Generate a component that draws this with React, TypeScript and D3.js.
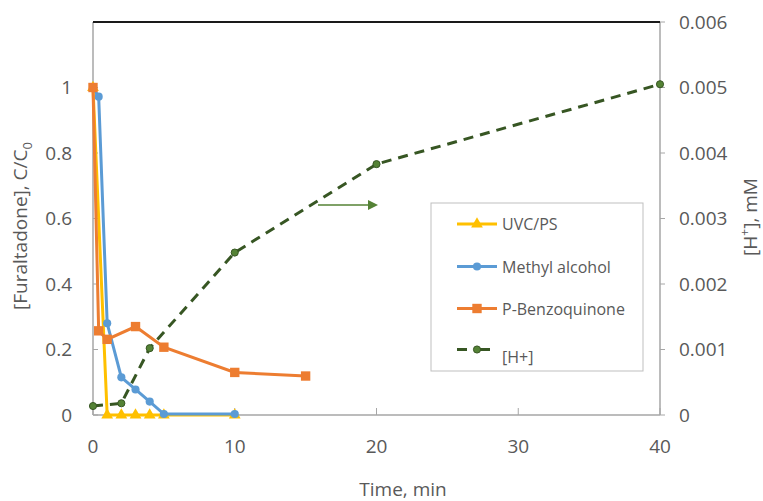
import React from 'react';
import * as d3 from 'd3';

const uvcTime = [0, 1, 2, 3, 4, 5, 10];
const uvcValue = [1, 0, 0, 0, 0, 0, 0];
const methTime = [0, 0.4, 1, 2, 3, 4, 5, 10];
const methValue = [1, 0.972, 0.28, 0.115, 0.078, 0.041, 0.003, 0.003];
const pbqTime = [0, 0.4, 1, 3, 5, 10, 15];
const pbqValue = [1, 0.257, 0.231, 0.27, 0.207, 0.13, 0.119];
const hTime = [0, 2, 4, 10, 20, 40];
const hValue = [0.000137, 0.000179, 0.00102, 0.00248, 0.00383, 0.00505];
const xTicks = [0, 10, 20, 30, 40];
const leftTicks = [0, 0.2, 0.4, 0.6, 0.8, 1];
const leftTickLabels = ['0', '0.2', '0.4', '0.6', '0.8', '1'];
const rightTicks = [0, 0.001, 0.002, 0.003, 0.004, 0.005, 0.006];
const rightTickLabels = ['0', '0.001', '0.002', '0.003', '0.004', '0.005', '0.006'];
const legendNames = ['UVC/PS', 'Methyl alcohol', 'P-Benzoquinone', '[H+]'];

const W = 763, H = 501;
const L = 93, R = 660, T = 22, B = 415;
const FONT = '"Open Sans", sans-serif';
const TXT = '#595959';

const YEL = '#FFC000', BLU = '#5B9BD5', ORA = '#ED7D31', GRN = '#375623', ARW = '#548235';

export default function App() {
  const x = d3.scaleLinear().domain([0, 40]).range([L, R]);
  const yL = d3.scaleLinear().domain([0, 1.2]).range([B, T]);
  const yR = d3.scaleLinear().domain([0, 0.006]).range([B, T]);

  const mk = (ts: number[], vs: number[]) => ts.map((t, i) => [t, vs[i]] as [number, number]);
  const lineL = d3.line<[number, number]>().x(d => x(d[0])).y(d => yL(d[1]));
  const lineR = d3.line<[number, number]>().x(d => x(d[0])).y(d => yR(d[1]));

  const tri = d3.symbol(d3.symbolTriangle, 60)()!;
  const circ = d3.symbol(d3.symbolCircle, 52)()!;
  const sq = d3.symbol(d3.symbolSquare, 88)()!;
  const gcirc = d3.symbol(d3.symbolCircle, 40)()!;

  const uvc = mk(uvcTime, uvcValue);
  const meth = mk(methTime, methValue);
  const pbq = mk(pbqTime, pbqValue);
  const hh = mk(hTime, hValue);

  const legX = 431, legY = 203, legW = 212, legH = 168;
  const entryY = [224, 266.5, 308.5, 349.5];
  const lx0 = 457, lx1 = 497, lmid = 477, ltx = 502;

  return (
    <svg width={W} height={H} style={{ position: 'absolute', left: 0, top: 0, background: '#fff' }} fontFamily={FONT}>
      <rect x={0} y={0} width={W} height={H} fill="#fff" />
      {/* axes */}
      <line x1={L} x2={R} y1={B} y2={B} stroke="#A6A6A6" strokeWidth={1.5} />
      <line x1={L} x2={L} y1={T} y2={B} stroke="#A6A6A6" strokeWidth={1.5} />
      <line x1={R} x2={R} y1={T} y2={B} stroke="#A6A6A6" strokeWidth={1.5} />
      <line x1={L} x2={R} y1={T} y2={T} stroke="#1a1a1a" strokeWidth={2} />
      {xTicks.map(t => (
        <g key={'xt' + t}>
          <line x1={x(t)} x2={x(t)} y1={B} y2={B - 7} stroke="#A6A6A6" strokeWidth={1} />
          <text x={x(t)} y={453} textAnchor="middle" fontSize={19} fill={TXT}>{t}</text>
        </g>
      ))}
      {leftTicks.map((v, i) => (
        <g key={'lt' + i}>
          <line x1={L} x2={L + 5} y1={yL(v)} y2={yL(v)} stroke="#A6A6A6" strokeWidth={1} />
          <text x={72} y={yL(v)} dy="0.35em" textAnchor="end" fontSize={19} fill={TXT}>{leftTickLabels[i]}</text>
        </g>
      ))}
      {rightTicks.map((v, i) => (
        <g key={'rt' + i}>
          <line x1={R} x2={R + 5} y1={yR(v)} y2={yR(v)} stroke="#A6A6A6" strokeWidth={1} />
          <text x={679} y={yR(v)} dy="0.35em" textAnchor="start" fontSize={19} fill={TXT}>{rightTickLabels[i]}</text>
        </g>
      ))}
      {/* axis titles */}
      <text x={403} y={496} textAnchor="middle" fontSize={19} fill={TXT}>Time, min</text>
      <text transform="translate(27,226) rotate(-90)" textAnchor="middle" fontSize={19} fill={TXT}>
        [Furaltadone], C/C<tspan fontSize={13} dy={5}>0</tspan>
      </text>
      <text transform="translate(757,217) rotate(-90)" textAnchor="middle" fontSize={19} fill={TXT}>
        [H<tspan fontSize={12} dy={-8}>+</tspan><tspan dy={8}>], mM</tspan>
      </text>

      {/* series */}
      <path d={lineL(uvc)!} fill="none" stroke={YEL} strokeWidth={3} />
      {uvc.map((d, i) => <path key={'u' + i} d={tri} transform={`translate(${x(d[0])},${yL(d[1])})`} fill={YEL} />)}
      <path d={lineL(meth)!} fill="none" stroke={BLU} strokeWidth={3} />
      {meth.map((d, i) => <path key={'m' + i} d={circ} transform={`translate(${x(d[0])},${yL(d[1])})`} fill={BLU} />)}
      <path d={lineL(pbq)!} fill="none" stroke={ORA} strokeWidth={3} />
      {pbq.map((d, i) => <path key={'p' + i} d={sq} transform={`translate(${x(d[0])},${yL(d[1])})`} fill={ORA} />)}
      <path d={lineR(hh)!} fill="none" stroke={GRN} strokeWidth={3} strokeDasharray="10,7" />
      {hh.map((d, i) => <path key={'h' + i} d={gcirc} transform={`translate(${x(d[0])},${yR(d[1])})`} fill={ARW} stroke={GRN} strokeWidth={1} />)}

      {/* arrow */}
      <line x1={318} x2={370} y1={205} y2={205} stroke={ARW} strokeWidth={1.5} />
      <path d="M378,205 L368,200 L368,210 Z" fill={ARW} />

      {/* legend */}
      <rect x={legX} y={legY} width={legW} height={legH} fill="#fff" stroke="#BFBFBF" strokeWidth={1} />
      <line x1={lx0} x2={lx1} y1={entryY[0]} y2={entryY[0]} stroke={YEL} strokeWidth={3} />
      <path d={tri} transform={`translate(${lmid},${entryY[0]})`} fill={YEL} />
      <line x1={lx0} x2={lx1} y1={entryY[1]} y2={entryY[1]} stroke={BLU} strokeWidth={3} />
      <path d={circ} transform={`translate(${lmid},${entryY[1]})`} fill={BLU} />
      <line x1={lx0} x2={lx1} y1={entryY[2]} y2={entryY[2]} stroke={ORA} strokeWidth={3} />
      <path d={sq} transform={`translate(${lmid},${entryY[2]})`} fill={ORA} />
      <line x1={lx0} x2={lx0 + 10} y1={entryY[3]} y2={entryY[3]} stroke={GRN} strokeWidth={3} />
      <line x1={lx1 - 7} x2={lx1 - 17} y1={entryY[3]} y2={entryY[3]} stroke={GRN} strokeWidth={3} />
      <path d={gcirc} transform={`translate(${lmid},${entryY[3]})`} fill={ARW} stroke={GRN} strokeWidth={1} />
      {legendNames.map((n, i) => (
        <text key={'ln' + i} x={ltx} y={i < 3 ? entryY[i] + 6 : 363} fontSize={16} fill={TXT}>{n}</text>
      ))}
    </svg>
  );
}
